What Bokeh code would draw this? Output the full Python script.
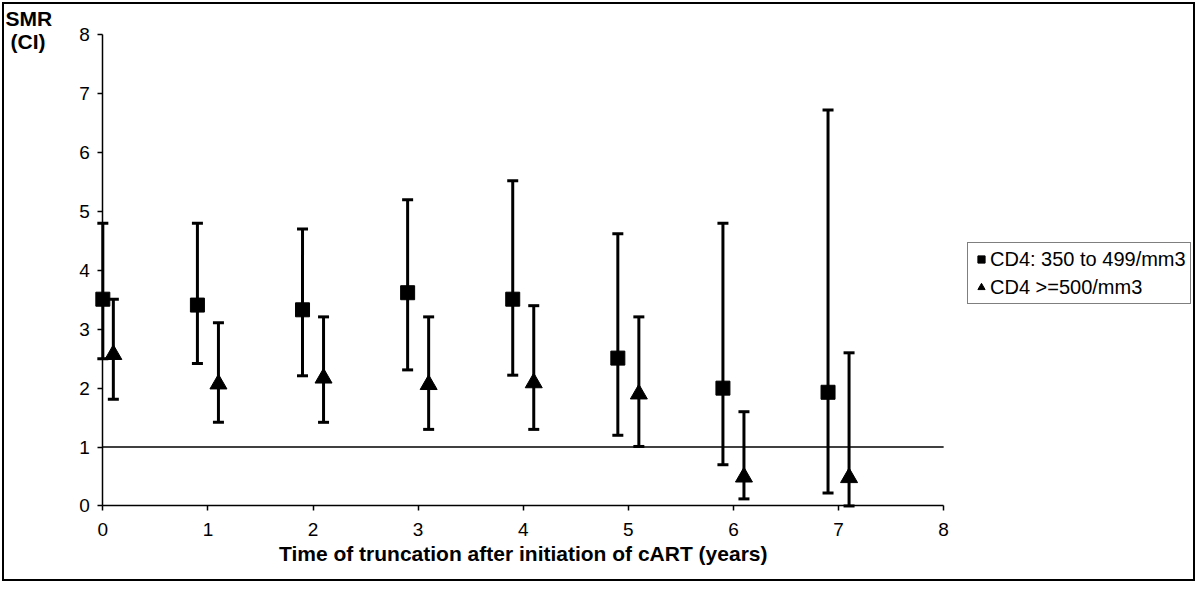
from bokeh.plotting import figure
from bokeh.models import Label, Legend, LegendItem, FixedTicker, Range1d
from bokeh.embed import file_html
from bokeh.resources import INLINE

# ---- data ----
sq_x = [0.0, 0.9, 1.9, 2.9, 3.9, 4.9, 5.9, 6.9]
sq_y = [3.51, 3.41, 3.33, 3.62, 3.51, 2.51, 2.00, 1.93]
sq_lo = [2.50, 2.42, 2.21, 2.31, 2.22, 1.20, 0.70, 0.22]
sq_hi = [4.80, 4.80, 4.70, 5.20, 5.52, 4.62, 4.80, 6.72]

tr_x = [0.1, 1.1, 2.1, 3.1, 4.1, 5.1, 6.1, 7.1]
tr_y = [2.57, 2.07, 2.17, 2.06, 2.09, 1.90, 0.49, 0.48]
tr_lo = [1.81, 1.42, 1.42, 1.30, 1.30, 1.01, 0.12, 0.00]
tr_hi = [3.51, 3.11, 3.21, 3.21, 3.40, 3.21, 1.60, 2.60]

x_ticks = [0, 1, 2, 3, 4, 5, 6, 7, 8]
y_ticks = [0, 1, 2, 3, 4, 5, 6, 7, 8]
ref_line = 1.0

series_names = ["CD4: 350 to 499/mm3", "CD4 >=500/mm3"]
x_title = "Time of truncation after initiation of cART (years)"
y_title = ["SMR", "(CI)"]

FONT = "Liberation Sans"

# ---- layout (pixels) ----
W, H = 1193, 579          # outer size incl. 2px border
CW, CH = W - 4, H - 4     # canvas
X0_PX, X8_PX = 98, 936    # canvas x of x=0 and x=8
Y0_PX, Y8_PX = 498, 30    # canvas y of y=0 and y=8
ux = (X8_PX - X0_PX) / 8.0
uy = (Y0_PX - Y8_PX) / 8.0
x_lo = -X0_PX / ux
x_hi = (CW - X0_PX) / ux
y_hi = Y0_PX / uy
y_lo = -(CH - Y0_PX) / uy

def px_to_x(px):
    return (px - X0_PX) / ux

def px_to_y(py):
    return (Y0_PX - py) / uy

p = figure(width=W, height=H,
           x_range=Range1d(x_lo, x_hi), y_range=Range1d(y_lo, y_hi),
           output_backend="svg", toolbar_location=None,
           min_border_left=0, min_border_right=0,
           min_border_top=0, min_border_bottom=0)
p.styles = {"border": "2px solid black", "margin": "2px 0 0 2px",
            "box-sizing": "border-box"}
p.outline_line_color = None
p.xgrid.visible = False
p.ygrid.visible = False
p.background_fill_color = "white"
p.border_fill_color = "white"

for ax in (p.xaxis[0], p.yaxis[0]):
    ax.axis_line_color = "black"
    ax.axis_line_width = 1.5
    ax.major_tick_line_color = "black"
    ax.major_tick_line_width = 1.5
    ax.major_tick_in = 0
    ax.major_tick_out = 5
    ax.minor_tick_line_color = None
    ax.major_label_text_font = FONT
    ax.major_label_text_font_size = "19px"
    ax.major_label_text_color = "black"

p.xaxis.ticker = FixedTicker(ticks=x_ticks)
p.yaxis.ticker = FixedTicker(ticks=y_ticks)
p.xaxis.bounds = (x_ticks[0], x_ticks[-1])
p.yaxis.bounds = (y_ticks[0], y_ticks[-1])
p.xaxis.fixed_location = 0
p.yaxis.fixed_location = 0
p.xaxis.major_label_standoff = 12
p.yaxis.major_label_standoff = 8

# reference line at SMR = 1 across the axis range
p.segment(x0=[x_ticks[0]], y0=[ref_line], x1=[x_ticks[-1]], y1=[ref_line],
          line_color="black", line_width=1.5)

# error bars
def errbars(xs, lo, hi):
    p.segment(x0=xs, y0=lo, x1=xs, y1=hi, line_color="black", line_width=3)
    p.scatter(x=xs, y=lo, marker="dash", size=11, line_color="black", line_width=3)
    p.scatter(x=xs, y=hi, marker="dash", size=11, line_color="black", line_width=3)

errbars(sq_x, sq_lo, sq_hi)
errbars(tr_x, tr_lo, tr_hi)

r_sq = p.scatter(x=sq_x, y=sq_y, marker="square", size=14,
                 fill_color="black", line_color="black")
r_tr = p.scatter(x=tr_x, y=tr_y, marker="triangle", size=17,
                 fill_color="black", line_color="black")

legend = Legend(items=[LegendItem(label=series_names[0], renderers=[r_sq]),
                       LegendItem(label=series_names[1], renderers=[r_tr])],
                location=(963, CH - 296))
legend.border_line_color = "black"
legend.border_line_width = 1.2
legend.background_fill_color = "white"
legend.background_fill_alpha = 1
legend.padding = 4
legend.spacing = 4
legend.margin = 0
legend.label_height = 24
legend.glyph_height = 24
legend.glyph_width = 18
legend.label_standoff = 0
legend.label_text_font = FONT
legend.label_text_font_size = "20px"
legend.label_text_color = "black"
p.add_layout(legend, "center")

# x title
p.add_layout(Label(x=(x_ticks[0] + x_ticks[-1]) / 2, y=px_to_y(545), text=x_title,
                   text_font=FONT, text_font_style="bold", text_font_size="21px",
                   text_baseline="middle", text_align="center", text_color="black"))

# y title at top-left
p.add_layout(Label(x=px_to_x(1), y=px_to_y(14), text=y_title[0], text_font=FONT,
                   text_font_style="bold", text_font_size="21px",
                   text_baseline="middle", text_align="left", text_color="black"))
p.add_layout(Label(x=px_to_x(6), y=px_to_y(37), text=y_title[1], text_font=FONT,
                   text_font_style="bold", text_font_size="21px",
                   text_baseline="middle", text_align="left", text_color="black"))

open("out.html", "w").write(file_html(p, INLINE))
